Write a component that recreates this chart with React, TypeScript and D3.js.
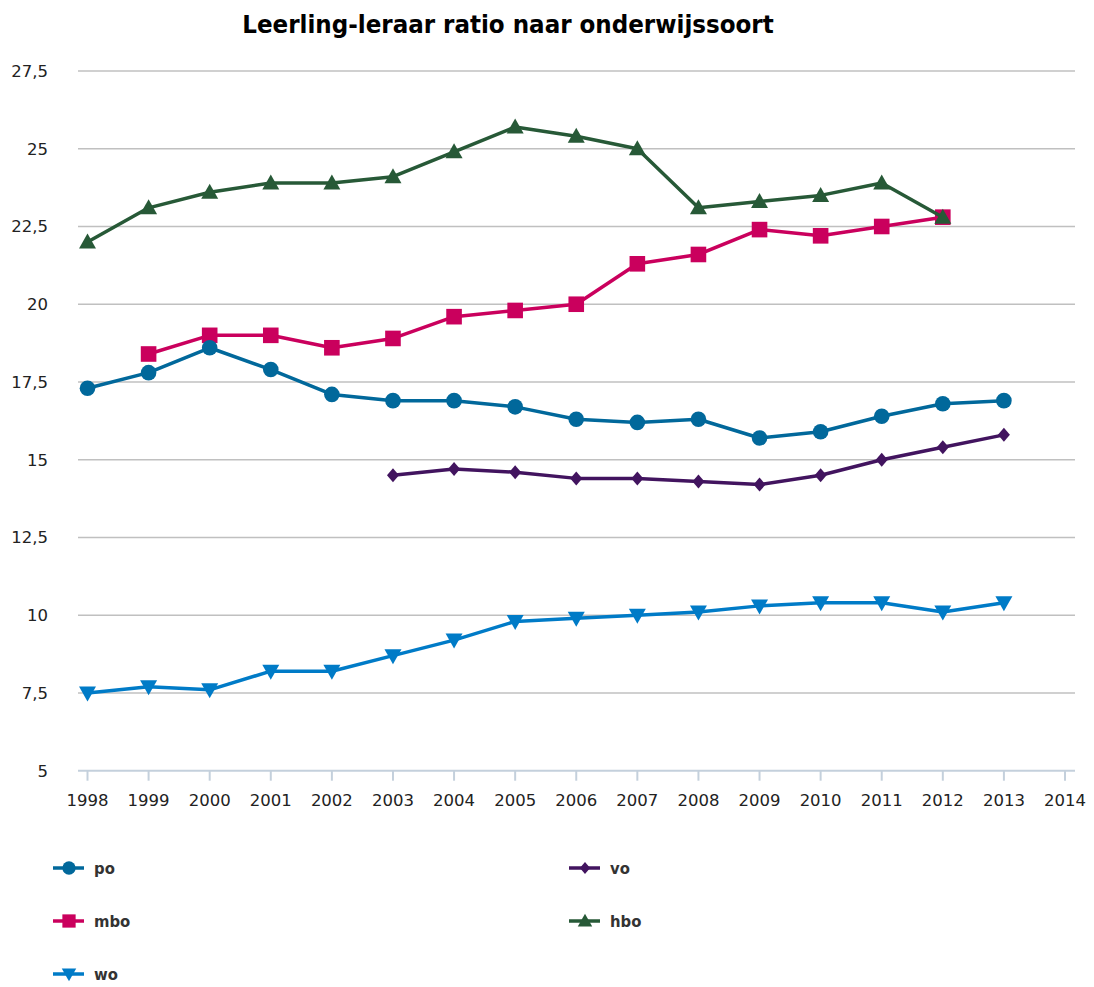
import React from "react";
import * as d3 from "d3";

const years = [1998, 1999, 2000, 2001, 2002, 2003, 2004, 2005, 2006, 2007, 2008, 2009, 2010, 2011, 2012, 2013];
const poValues = [17.3, 17.8, 18.6, 17.9, 17.1, 16.9, 16.9, 16.7, 16.3, 16.2, 16.3, 15.7, 15.9, 16.4, 16.8, 16.9];
const voValues = [null, null, null, null, null, 14.5, 14.7, 14.6, 14.4, 14.4, 14.3, 14.2, 14.5, 15.0, 15.4, 15.8];
const mboValues = [null, 18.4, 19.0, 19.0, 18.6, 18.9, 19.6, 19.8, 20.0, 21.3, 21.6, 22.4, 22.2, 22.5, 22.8, null];
const hboValues = [22.0, 23.1, 23.6, 23.9, 23.9, 24.1, 24.9, 25.7, 25.4, 25.0, 23.1, 23.3, 23.5, 23.9, 22.8, null];
const woValues = [7.5, 7.7, 7.6, 8.2, 8.2, 8.7, 9.2, 9.8, 9.9, 10.0, 10.1, 10.3, 10.4, 10.4, 10.1, 10.4];
const xTicks = [1998, 1999, 2000, 2001, 2002, 2003, 2004, 2005, 2006, 2007, 2008, 2009, 2010, 2011, 2012, 2013, 2014];
const yTicks = [5, 7.5, 10, 12.5, 15, 17.5, 20, 22.5, 25, 27.5];

type Series = { name: string; values: (number | null)[]; color: string; symbol: string };
const series: Series[] = [
  { name: "po", values: poValues, color: "#01689b", symbol: "circle" },
  { name: "vo", values: voValues, color: "#42145f", symbol: "diamond" },
  { name: "mbo", values: mboValues, color: "#ca005d", symbol: "square" },
  { name: "hbo", values: hboValues, color: "#275937", symbol: "triangle" },
  { name: "wo", values: woValues, color: "#007bc7", symbol: "triangleDown" },
];
const drawOrder = ["vo", "mbo", "po", "hbo", "wo"];

const W = 1094;
const H = 987;
const x = d3.scaleLinear().domain([1998, 2014]).range([87.5, 1065]);
const y = d3.scaleLinear().domain([5, 27.5]).range([770.7, 71]);

function marker(sym: string, cx: number, cy: number, color: string, s: number, key?: string) {
  if (sym === "circle") return <circle key={key} cx={cx} cy={cy} r={7.8 * s} fill={color} />;
  if (sym === "square")
    return <rect key={key} x={cx - 7.8 * s} y={cy - 7.8 * s} width={15.6 * s} height={15.6 * s} fill={color} />;
  if (sym === "diamond")
    return (
      <path
        key={key}
        d={`M${cx},${cy - 7 * s}L${cx + 6 * s},${cy}L${cx},${cy + 7 * s}L${cx - 6 * s},${cy}Z`}
        fill={color}
      />
    );
  if (sym === "triangle")
    return (
      <path
        key={key}
        d={`M${cx},${cy - 8.5 * s}L${cx + 8.5 * s},${cy + 6.5 * s}L${cx - 8.5 * s},${cy + 6.5 * s}Z`}
        fill={color}
      />
    );
  return (
    <path
      key={key}
      d={`M${cx},${cy + 8.5 * s}L${cx + 8.5 * s},${cy - 6.5 * s}L${cx - 8.5 * s},${cy - 6.5 * s}Z`}
      fill={color}
    />
  );
}

export default function App() {
  const line = d3
    .line<[number, number | null]>()
    .defined((d) => d[1] !== null)
    .x((d) => x(d[0]))
    .y((d) => y(d[1] as number));

  const legendPos: Record<string, [number, number]> = {
    po: [53, 868],
    vo: [569, 868],
    mbo: [53, 921],
    hbo: [569, 921],
    wo: [53, 974],
  };

  return (
    <svg width={W} height={H} style={{ position: "absolute", left: 0, top: 0, background: "#fff" }}>
      <text
        x={508}
        y={33}
        textAnchor="middle"
        fontFamily="DejaVu Sans Condensed"
        fontWeight="bold"
        fontSize={25.6}
        fill="#000"
      >
        Leerling-leraar ratio naar onderwijssoort
      </text>
      {yTicks.map((t) => (
        <g key={t}>
          {t !== 5 && <line x1={78} x2={1075} y1={y(t)} y2={y(t)} stroke="#c0c0c0" strokeWidth={1.5} />}
          <text
            x={48}
            y={y(t) + 6}
            textAnchor="end"
            fontFamily="DejaVu Sans"
            fontSize={16.5}
            fill="#222"
          >
            {String(t).replace(".", ",")}
          </text>
        </g>
      ))}
      <line x1={78} x2={1075} y1={y(5)} y2={y(5)} stroke="#c4d0dc" strokeWidth={2} />
      {xTicks.map((t) => (
        <g key={t}>
          <line x1={x(t)} x2={x(t)} y1={y(5)} y2={y(5) + 10} stroke="#c4d0dc" strokeWidth={2} />
          <text x={x(t)} y={y(5) + 35} textAnchor="middle" fontFamily="DejaVu Sans" fontSize={16.5} fill="#222">
            {t}
          </text>
        </g>
      ))}
      {drawOrder.map((n) => {
        const s = series.find((q) => q.name === n)!;
        const pts = years.map((yr, i) => [yr, s.values[i]] as [number, number | null]);
        return (
          <g key={n}>
            <path d={line(pts) || ""} fill="none" stroke={s.color} strokeWidth={3.5} strokeLinejoin="round" />
            {pts
              .filter((p) => p[1] !== null)
              .map((p, i) => marker(s.symbol, x(p[0]), y(p[1] as number), s.color, 1, `${n}-${i}`))}
          </g>
        );
      })}
      {series.map((s) => {
        const [lx, ly] = legendPos[s.name];
        return (
          <g key={`lg-${s.name}`}>
            <line x1={lx} x2={lx + 31} y1={ly} y2={ly} stroke={s.color} strokeWidth={3.5} />
            {marker(s.symbol, lx + 16, ly, s.color, 0.85)}
            <text
              x={lx + 41}
              y={ly + 6}
              fontFamily="DejaVu Sans Condensed"
              fontWeight="bold"
              fontSize={16.5}
              fill="#333"
            >
              {s.name}
            </text>
          </g>
        );
      })}
    </svg>
  );
}
